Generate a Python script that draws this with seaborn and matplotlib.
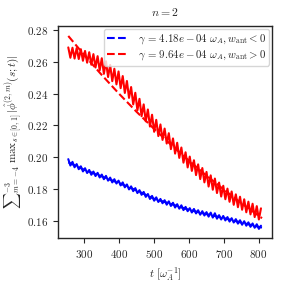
import numpy as np
import pandas as pd
import matplotlib
matplotlib.use('Agg')
import matplotlib.pyplot as plt
import seaborn as sns

# time samples [1/omega_A]
t = [255, 261, 267, 273, 279, 285, 291, 297, 303, 309, 315, 321, 327, 333, 339, 345,
     351, 357, 363, 369, 375, 381, 387, 393, 399, 405, 411, 417, 423, 429, 435, 441,
     447, 453, 459, 465, 471, 477, 483, 489, 495, 501, 507, 513, 519, 525, 531, 537,
     543, 549, 555, 561, 567, 573, 579, 585, 591, 597, 603, 609, 615, 621, 627, 633,
     639, 645, 651, 657, 663, 669, 675, 681, 687, 693, 699, 705, 711, 717, 723, 729,
     735, 741, 747, 753, 759, 765, 771, 777, 783, 789, 795, 801, 807]

# w_ant > 0 run (red)
red_vals = [0.2690, 0.2625, 0.2688, 0.2620, 0.2686, 0.2617, 0.2679, 0.2606, 0.2668, 0.2594,
            0.2660, 0.2581, 0.2648, 0.2564, 0.2635, 0.2546, 0.2622, 0.2524, 0.2603, 0.2504,
            0.2580, 0.2478, 0.2556, 0.2458, 0.2539, 0.2434, 0.2510, 0.2404, 0.2479, 0.2373,
            0.2441, 0.2332, 0.2405, 0.2295, 0.2367, 0.2258, 0.2332, 0.2226, 0.2300, 0.2193,
            0.2267, 0.2160, 0.2235, 0.2133, 0.2206, 0.2109, 0.2180, 0.2086, 0.2151, 0.2051,
            0.2118, 0.2023, 0.2091, 0.1996, 0.2061, 0.1966, 0.2031, 0.1936, 0.2004, 0.1914,
            0.1981, 0.1888, 0.1955, 0.1863, 0.1932, 0.1842, 0.1908, 0.1816, 0.1886, 0.1796,
            0.1866, 0.1775, 0.1841, 0.1753, 0.1821, 0.1736, 0.1803, 0.1720, 0.1785, 0.1701,
            0.1767, 0.1686, 0.1752, 0.1670, 0.1736, 0.1654, 0.1721, 0.1641, 0.1708, 0.1624,
            0.1693, 0.1609, 0.1679]

# w_ant < 0 run (blue)
blue_vals = [0.1988, 0.1948, 0.1971, 0.1937, 0.1957, 0.1925, 0.1943, 0.1911, 0.1931, 0.1901,
             0.1920, 0.1890, 0.1910, 0.1882, 0.1902, 0.1873, 0.1891, 0.1862, 0.1883, 0.1853,
             0.1872, 0.1842, 0.1862, 0.1835, 0.1853, 0.1823, 0.1842, 0.1811, 0.1829, 0.1798,
             0.1817, 0.1787, 0.1806, 0.1775, 0.1793, 0.1764, 0.1782, 0.1751, 0.1769, 0.1738,
             0.1757, 0.1727, 0.1748, 0.1719, 0.1738, 0.1711, 0.1730, 0.1702, 0.1723, 0.1694,
             0.1714, 0.1684, 0.1705, 0.1677, 0.1698, 0.1668, 0.1688, 0.1661, 0.1680, 0.1653,
             0.1675, 0.1647, 0.1667, 0.1639, 0.1661, 0.1634, 0.1655, 0.1627, 0.1652, 0.1621,
             0.1648, 0.1614, 0.1636, 0.1609, 0.1631, 0.1603, 0.1624, 0.1596, 0.1617, 0.1590,
             0.1611, 0.1583, 0.1604, 0.1576, 0.1598, 0.1570, 0.1591, 0.1563, 0.1584, 0.1557,
             0.1579, 0.1550, 0.1570]

# fitted curves
t_fit = [255, 300, 350, 400, 450, 500, 550, 600, 650, 700, 750, 800, 810]
red_fit = [0.2762, 0.2644, 0.2519, 0.2400, 0.2287, 0.2180, 0.2077, 0.1980, 0.1886,
           0.1798, 0.1713, 0.1633, 0.1617]
blue_fit = [0.1968, 0.1922, 0.1880, 0.1838, 0.1792, 0.1740, 0.1706, 0.1670, 0.1643,
            0.1618, 0.1590, 0.1563, 0.1558]

lbl_blue = r'$\gamma\, =\, 4.18e-04\ \omega_A, w_{\rm ant} < 0$'
lbl_red = r'$\gamma\, =\, 9.64e-04\ \omega_A, w_{\rm ant} > 0$'
ylbl = r'${\sum}_{m=-4}^{-3}\ {\rm max}_{s\in[0,1]}\,|\hat{\phi}^{(2,m)}(s;t)|$'

sns.set_style('ticks')
plt.rcParams['font.family'] = 'serif'
plt.rcParams['font.serif'] = ['cmr10', 'DejaVu Serif']
plt.rcParams['mathtext.fontset'] = 'cm'
plt.rcParams['axes.formatter.use_mathtext'] = True

data_df = pd.DataFrame({'t': t, 'red': red_vals, 'blue': blue_vals})
fit_df = pd.DataFrame({'t': t_fit, 'red': red_fit, 'blue': blue_fit})

fig = plt.figure(figsize=(2.82, 2.85), dpi=100)
ax = fig.add_axes([0.205, 0.164, 0.76, 0.745])

sns.lineplot(data=fit_df, x='t', y='blue', ax=ax, color='blue', lw=1.5,
             linestyle='--', label=lbl_blue, zorder=1)
sns.lineplot(data=fit_df, x='t', y='red', ax=ax, color='red', lw=1.5,
             linestyle='--', label=lbl_red, zorder=1)
sns.lineplot(data=data_df, x='t', y='blue', ax=ax, color='blue', lw=1.5, zorder=2)
sns.lineplot(data=data_df, x='t', y='red', ax=ax, color='red', lw=1.5, zorder=2)

ax.set_xlim(225, 839)
ax.set_ylim(0.1491, 0.2825)
ax.set_xticks([300, 400, 500, 600, 700, 800])
ax.set_yticks([0.16, 0.18, 0.20, 0.22, 0.24, 0.26, 0.28])
ax.tick_params(labelsize=8, length=3.5, width=0.8)
for sp in ax.spines.values():
    sp.set_linewidth(1.0)

ax.set_title(r'$n=2$', fontsize=8.5, pad=7)
ax.set_xlabel(r'$t\ [\omega_A^{-1}]$', fontsize=8)
ax.set_ylabel(ylbl, fontsize=8, labelpad=3)

ax.legend(loc='upper right', fontsize=7.8, handlelength=2.0, borderpad=0.3,
          labelspacing=0.2, handletextpad=0.8, borderaxespad=0.3)

fig.savefig('out.png', dpi=100)
